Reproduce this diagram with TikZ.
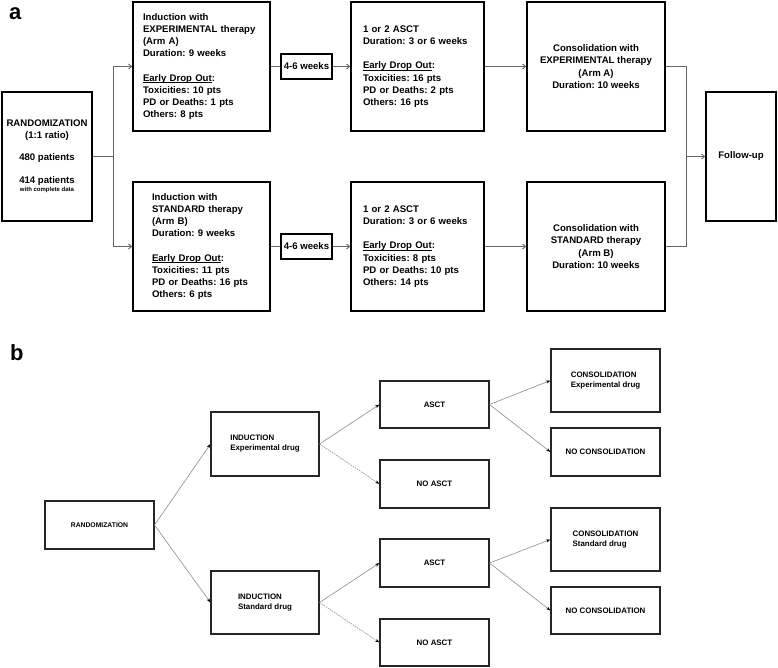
\documentclass[tikz,border=0pt]{standalone}
\usepackage{fontspec}
\setmainfont{Liberation Sans}
\usetikzlibrary{arrows.meta}
\newcommand\myul[1]{\leavevmode\setbox0\hbox{#1}\rlap{\rule[-1.4pt]{\wd0}{0.7pt}}\box0}
\begin{document}
\frenchspacing
\begin{tikzpicture}[x=1pt,y=-1pt,
  boxa/.style={draw=black, line width=1.6pt, inner sep=0pt, minimum height=129pt, font=\frenchspacing\fontsize{9.6}{12.2}\selectfont\bfseries},
  lefttext/.style={align=left},
  boxb/.style={draw=black!85, line width=1.1pt, inner sep=0pt, font=\frenchspacing\fontsize{7.9}{10}\selectfont\bfseries, align=left, minimum width=109pt},
  arra/.style={draw=black!60, line width=0.9pt, -{Straight Barb[length=3pt,width=5pt]}},
  linea/.style={draw=black!60, line width=0.9pt},
  arrb/.style={draw=black!45, line width=0.6pt, -{Stealth[length=4.5pt,width=3pt,color=black]}},
  dashb/.style={arrb, dash pattern=on 1.5pt off 1pt},
  panel/.style={font=\fontsize{22}{22}\selectfont\bfseries, anchor=base west, inner sep=0pt}
]
\useasboundingbox (0,0) rectangle (778,668);

% ---------- panel a ----------
\node[panel] (la) at (9,20) {a};

\node[boxa, minimum width=90pt, align=center] (randA) at (47,156.5)
  {RANDOMIZATION\\(1:1 ratio)\\[10pt]480 patients\\[10pt]414 patients\\[-3.5pt]{\fontsize{6}{6}\selectfont with complete data}};

\node[boxa, lefttext, minimum width=137pt, text width=117pt, inner xsep=10pt] (indA) at (201.5,66.5)
  {Induction with\\\mbox{EXPERIMENTAL therapy}\\(Arm A)\\Duration: 9 weeks\\[12.2pt]\myul{Early Drop Out}:\\Toxicities: 10 pts\\PD or Deaths: 1 pts\\Others: 8 pts};
\node[boxa, lefttext, minimum width=137pt, text width=99pt, inner xsep=19pt] (indB) at (201.5,246.5)
  {Induction with\\\mbox{STANDARD therapy}\\(Arm B)\\\mbox{Duration: 9 weeks}\\[12.2pt]\myul{Early Drop Out}:\\Toxicities: 11 pts\\\mbox{PD or Deaths: 16 pts}\\Others: 6 pts};

\node[boxa, minimum width=51pt, minimum height=25pt] (wkA) at (306.5,66.5) {4-6 weeks};
\node[boxa, minimum width=51pt, minimum height=25pt] (wkB) at (306.5,246.5) {4-6 weeks};

\node[boxa, lefttext, minimum width=133pt, text width=109pt, inner xsep=12pt] (asctA) at (417.5,66.5)
  {1 or 2 ASCT\\\mbox{Duration: 3 or 6 weeks}\\[12.2pt]\myul{Early Drop Out}:\\Toxicities: 16 pts\\PD or Deaths: 2 pts\\Others: 16 pts};
\node[boxa, lefttext, minimum width=133pt, text width=109pt, inner xsep=12pt] (asctB) at (417.5,246.5)
  {1 or 2 ASCT\\\mbox{Duration: 3 or 6 weeks}\\[12.2pt]\myul{Early Drop Out}:\\Toxicities: 8 pts\\PD or Deaths: 10 pts\\Others: 14 pts};

\node[boxa, minimum width=138pt, align=center] (consA) at (596,66.5)
  {Consolidation with\\EXPERIMENTAL therapy\\(Arm A)\\Duration: 10 weeks};
\node[boxa, minimum width=138pt, align=center] (consB) at (596,246.5)
  {Consolidation with\\STANDARD therapy\\(Arm B)\\Duration: 10 weeks};

\node[boxa, minimum width=70pt] (fu) at (741,156.5) {Follow-up};

\coordinate (spl) at (113,156.5);
\draw[linea] (randA.east) -- (spl);
\draw[arra] (spl) |- (indA.west);
\draw[arra] (spl) |- (indB.west);
\draw[linea] (indA.east) -- (wkA.west);
\draw[linea] (indB.east) -- (wkB.west);
\draw[arra] (wkA.east) -- (asctA.west);
\draw[arra] (wkB.east) -- (asctB.west);
\draw[arra] (asctA.east) -- (consA.west);
\draw[arra] (asctB.east) -- (consB.west);
\coordinate (mrg) at (686,156.5);
\draw[linea] (consA.east) -| (mrg);
\draw[linea] (consB.east) -| (mrg);
\draw[arra] (mrg) -- (fu.west);

% ---------- panel b ----------
\node[panel] (lb) at (10,360) {b};

\node[boxb, minimum height=48pt] (randB) at (99.5,525) {\fontsize{6.8}{8}\selectfont RANDOMIZATION};
\node[boxb, minimum width=108pt, minimum height=64pt] (indE) at (265,444) {INDUCTION\\Experimental drug};
\node[boxb, minimum width=108pt, minimum height=63pt] (indS) at (265,602.5) {INDUCTION\\Standard drug};

\node[boxb, minimum height=47pt] (asct1) at (434.5,404.5) {ASCT};
\node[boxb, minimum height=48pt] (noasct1) at (434.5,484) {NO ASCT};
\node[boxb, minimum height=48pt] (asct2) at (434.5,563) {ASCT};
\node[boxb, minimum height=47pt] (noasct2) at (434.5,642.5) {NO ASCT};

\node[boxb, minimum height=63pt] (consE) at (605.5,380.5) {CONSOLIDATION\\Experimental drug};
\node[boxb, minimum height=48pt] (nocons1) at (605.5,452) {NO CONSOLIDATION};
\node[boxb, minimum height=63pt] (consS) at (605.5,539.5) {CONSOLIDATION\\Standard drug};
\node[boxb, minimum height=47pt] (nocons2) at (605.5,610.5) {NO CONSOLIDATION};

\draw[arrb] (randB.east) -- (indE.west);
\draw[arrb] (randB.east) -- (indS.west);
\draw[arrb] (indE.east) -- (asct1.west);
\draw[dashb] (indE.east) -- (noasct1.west);
\draw[arrb] (indS.east) -- (asct2.west);
\draw[dashb] (indS.east) -- (noasct2.west);
\draw[arrb] (asct1.east) -- (consE.west);
\draw[arrb] (asct1.east) -- (nocons1.west);
\draw[arrb] (asct2.east) -- (consS.west);
\draw[arrb] (asct2.east) -- (nocons2.west);
\end{tikzpicture}
\end{document}
